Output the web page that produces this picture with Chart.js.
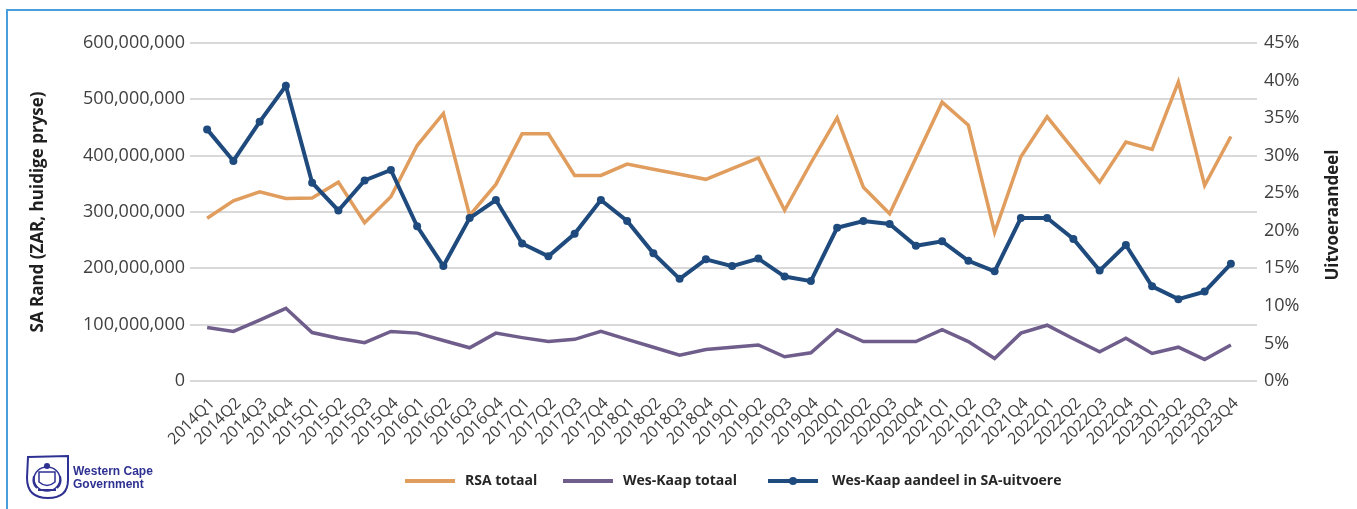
<!DOCTYPE html>
<html>
<head>
<meta charset="utf-8">
<script src="https://cdn.jsdelivr.net/npm/chart.js@4.4.1/dist/chart.umd.min.js"></script>
<style>
  html, body { margin: 0; padding: 0; background: #ffffff; }
  #wrap { position: relative; width: 1357px; height: 509px; overflow: hidden; background: #fff; }
  #frame { position: absolute; left: 6px; top: 9px; width: 1500px; height: 700px;
           border-left: 2px solid #4a9edb; border-top: 2px solid #4a9edb; }
  #chart { position: absolute; left: 0; top: 0; }
  #logo { position: absolute; left: 24px; top: 454px; width: 140px; height: 46px; }
  #logo svg { position: absolute; left: 0; top: 0; }
  #logo .t { position: absolute; left: 49px; font-family: "Liberation Sans", Arial, sans-serif;
             font-weight: bold; font-size: 12px; color: #2e3192; line-height: 13px; white-space: nowrap; }
</style>
</head>
<body>
<div id="wrap">
  <div id="frame"></div>
  <canvas id="chart" width="1357" height="509"></canvas>
  <div id="logo">
    <svg width="46" height="46" viewBox="0 0 46 46">
      <path d="M4 3 L44 2 L44 26 Q44 44 24 44 Q3 44 3 24 Z" fill="none" stroke="#2e3192" stroke-width="2"/>
      <ellipse cx="23" cy="25" rx="13" ry="12" fill="none" stroke="#2e3192" stroke-width="1.5"/>
      <path d="M15 18 L31 18 L31 28 Q23 35 15 28 Z" fill="none" stroke="#2e3192" stroke-width="1.5"/>
      <circle cx="23" cy="12" r="3" fill="#2e3192"/>
      <path d="M10 22 Q8 30 13 34 M36 22 Q38 30 33 34" fill="none" stroke="#2e3192" stroke-width="2"/>
      <path d="M14 36 L32 36" stroke="#2e3192" stroke-width="2"/>
    </svg>
    <div class="t" style="top:11px;">Western Cape</div>
    <div class="t" style="top:24px;">Government</div>
  </div>
</div>
<script>
// ---------- DATA ----------
const categories = [
  "2014Q1","2014Q2","2014Q3","2014Q4","2015Q1","2015Q2","2015Q3","2015Q4",
  "2016Q1","2016Q2","2016Q3","2016Q4","2017Q1","2017Q2","2017Q3","2017Q4",
  "2018Q1","2018Q2","2018Q3","2018Q4","2019Q1","2019Q2","2019Q3","2019Q4",
  "2020Q1","2020Q2","2020Q3","2020Q4","2021Q1","2021Q2","2021Q3","2021Q4",
  "2022Q1","2022Q2","2022Q3","2022Q4","2023Q1","2023Q2","2023Q3","2023Q4"
];
// RSA totaal (Rand)
const rsaTotaal = [
  289000000, 320000000, 336000000, 324000000, 325000000, 353000000, 281000000, 327000000,
  418000000, 475000000, 294000000, 349000000, 439000000, 439000000, 365000000, 365000000,
  385000000, 376000000, 367000000, 358000000, 377000000, 396000000, 303000000, 387000000,
  467000000, 344000000, 297000000, 396000000, 495000000, 454000000, 264000000, 398000000,
  469000000, 411000000, 353000000, 424000000, 411000000, 531000000, 347000000, 434000000
];
// Wes-Kaap totaal (Rand)
const wesKaapTotaal = [
  95000000, 88000000, 108000000, 129000000, 86000000, 76000000, 68000000, 88000000,
  85000000, 72000000, 59000000, 85000000, 77000000, 70000000, 74000000, 88000000,
  74000000, 60000000, 46000000, 56000000, 60000000, 64000000, 43000000, 50000000,
  91000000, 70000000, 70000000, 70000000, 91000000, 70000000, 40000000, 85000000,
  99000000, 75000000, 52000000, 76000000, 49000000, 60000000, 38000000, 64000000
];
// Wes-Kaap aandeel in SA-uitvoere (%)
const wesKaapAandeel = [
  33.5, 29.3, 34.5, 39.3, 26.4, 22.7, 26.7, 28.1,
  20.6, 15.3, 21.7, 24.1, 18.3, 16.6, 19.6, 24.1,
  21.3, 17.0, 13.6, 16.2, 15.3, 16.3, 13.9, 13.3,
  20.4, 21.3, 20.9, 18.0, 18.6, 16.0, 14.6, 21.7,
  21.7, 18.9, 14.7, 18.1, 12.6, 10.9, 11.9, 15.6
];
const leftTicks = { min: 0, max: 600000000, step: 100000000 };
const rightTicks = { min: 0, max: 45, step: 5 };
const seriesNames = ["RSA totaal", "Wes-Kaap totaal", "Wes-Kaap aandeel in SA-uitvoere"];
const leftTitle = "SA Rand (ZAR, huidige pryse)";
const rightTitle = "Uitvoeraandeel";

// ---------- STYLE ----------
const COL_RSA = "#e09d5e";
const COL_WK = "#6f5e8b";
const COL_SHARE = "#1f4a7d";
const TICK_COL = "#404040";
const FONT = "'Open Sans', 'Noto Sans', sans-serif";
const CHART_LEFT = 194, CHART_RIGHT = 1244, CHART_TOP = 43, CHART_BOTTOM = 381;
const GRID_LEFT = 190, GRID_RIGHT = 1257;

const extGrid = {
  id: 'extGrid',
  beforeDatasetsDraw(chart) {
    const y = chart.scales.y, ctx = chart.ctx;
    ctx.save();
    ctx.strokeStyle = '#d9d9d9';
    ctx.lineWidth = 2;
    y.ticks.forEach(t => {
      const py = Math.round(y.getPixelForValue(t.value));
      ctx.beginPath(); ctx.moveTo(GRID_LEFT, py); ctx.lineTo(GRID_RIGHT, py); ctx.stroke();
    });
    ctx.restore();
  }
};

const extras = {
  id: 'extras',
  afterDraw(chart) {
    const ctx = chart.ctx;
    const ca = chart.chartArea;
    // right axis title (reads bottom to top)
    ctx.save();
    ctx.translate(1333, (ca.top + ca.bottom) / 2 + 3);
    ctx.rotate(-Math.PI / 2);
    ctx.font = "bold 17px " + FONT;
    ctx.fillStyle = '#1f1f1f';
    ctx.textAlign = 'center';
    ctx.textBaseline = 'middle';
    ctx.fillText(rightTitle, 0, 0);
    ctx.restore();
    // legend
    const items = [
      { x: 405, col: COL_RSA, marker: false, gap: 10 },
      { x: 563, col: COL_WK, marker: false, gap: 10 },
      { x: 768, col: COL_SHARE, marker: true, gap: 14 }
    ];
    const ly = 481;
    ctx.save();
    ctx.font = "bold 14px " + FONT;
    ctx.textBaseline = 'middle';
    ctx.textAlign = 'left';
    items.forEach((it, i) => {
      ctx.strokeStyle = it.col;
      ctx.lineWidth = 4;
      ctx.beginPath(); ctx.moveTo(it.x, ly); ctx.lineTo(it.x + 50, ly); ctx.stroke();
      if (it.marker) {
        ctx.fillStyle = it.col;
        ctx.beginPath(); ctx.arc(it.x + 25, ly, 4, 0, Math.PI * 2); ctx.fill();
      }
      ctx.fillStyle = '#262626';
      ctx.fillText(seriesNames[i], it.x + 50 + it.gap, ly);
    });
    ctx.restore();
  }
};

new Chart(document.getElementById('chart'), {
  type: 'line',
  data: {
    labels: categories,
    datasets: [
      { label: seriesNames[0], data: rsaTotaal, yAxisID: 'y', borderColor: COL_RSA, backgroundColor: COL_RSA,
        borderWidth: 3.5, pointRadius: 0, tension: 0, order: 2 },
      { label: seriesNames[1], data: wesKaapTotaal, yAxisID: 'y', borderColor: COL_WK, backgroundColor: COL_WK,
        borderWidth: 3.5, pointRadius: 0, tension: 0, order: 3 },
      { label: seriesNames[2], data: wesKaapAandeel, yAxisID: 'y1', borderColor: COL_SHARE, backgroundColor: COL_SHARE,
        borderWidth: 4, pointRadius: 4, pointBorderWidth: 0, pointBackgroundColor: COL_SHARE, tension: 0, order: 1 }
    ]
  },
  options: {
    responsive: false,
    animation: false,
    layout: { padding: { top: CHART_TOP, left: 0, right: 0, bottom: 0 } },
    plugins: { legend: { display: false }, tooltip: { enabled: false } },
    scales: {
      x: {
        type: 'category',
        offset: true,
        grid: { display: false, drawTicks: false },
        border: { display: false },
        ticks: { autoSkip: false, maxRotation: 45, minRotation: 45, color: TICK_COL,
                 font: { family: FONT, size: 16 }, padding: 13, labelOffset: 5 },
        afterFit(s) { s.height = 509 - CHART_BOTTOM; }
      },
      y: {
        position: 'left',
        min: leftTicks.min, max: leftTicks.max,
        grid: { display: false, drawTicks: false },
        border: { display: false },
        ticks: { stepSize: leftTicks.step, color: TICK_COL, font: { family: FONT, size: 18 }, padding: 9,
                 callback: v => v.toLocaleString('en-US') },
        title: { display: true, text: leftTitle, color: '#1f1f1f', font: { family: FONT, size: 17, weight: 'bold' },
                 padding: { top: 28, bottom: 0 } },
        afterFit(s) { s.width = CHART_LEFT; }
      },
      y1: {
        position: 'right',
        min: rightTicks.min, max: rightTicks.max,
        grid: { display: false, drawTicks: false },
        border: { display: false },
        ticks: { stepSize: rightTicks.step, color: TICK_COL, font: { family: FONT, size: 18 }, padding: 20,
                 callback: v => v + '%' },
        afterFit(s) { s.width = 1357 - CHART_RIGHT; }
      }
    }
  },
  plugins: [extGrid, extras]
});
</script>
</body>
</html>
